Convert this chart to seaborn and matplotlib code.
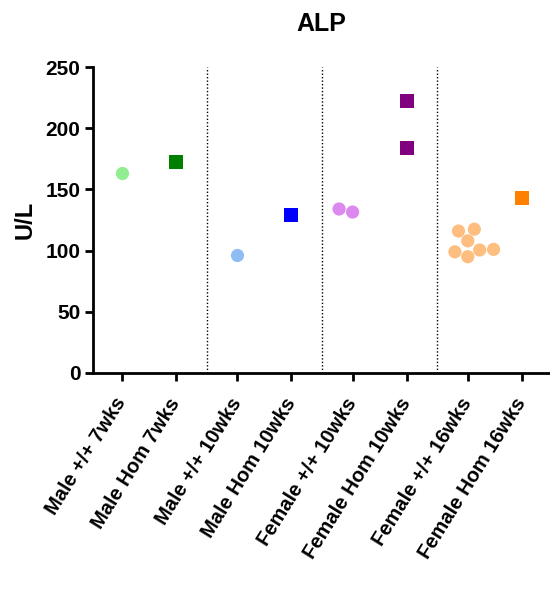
import numpy as np
import pandas as pd
import seaborn as sns
import matplotlib.pyplot as plt

# groups in plot order
groups = ['Male +/+ 7wks', 'Male Hom 7wks', 'Male +/+ 10wks', 'Male Hom 10wks',
          'Female +/+ 10wks', 'Female Hom 10wks', 'Female +/+ 16wks', 'Female Hom 16wks']
colors = ['#90ee90', '#008000', '#8fbcf2', '#0000ff',
          '#dd88ee', '#800080', '#fdbe80', '#ff8000']

# ALP values (U/L)
male_wt_7 = [163.5]
male_hom_7 = [172.5]
male_wt_10 = [96.5]
male_hom_10 = [129]
female_wt_10 = [131.5, 134]
female_hom_10 = [222, 183.5]
female_wt_16 = [117.5, 116, 108, 100.5, 95, 99, 101]
female_hom_16 = [143]

values = [male_wt_7, male_hom_7, male_wt_10, male_hom_10,
          female_wt_10, female_hom_10, female_wt_16, female_hom_16]

gap = 0.13  # extra space between the pairs
positions = [i + gap * (i // 2) for i in range(len(groups))]

rows = []
for g, p, vals in zip(groups, positions, values):
    for v in vals:
        rows.append({'group': g, 'pos': p, 'value': v, 'hom': 'Hom' in g})
df = pd.DataFrame(rows)
pal = dict(zip(groups, colors))

sns.set_style('ticks')
plt.rcParams['font.family'] = ['Liberation Sans', 'DejaVu Sans']
plt.rcParams['font.weight'] = 'bold'
for key in ['text.color', 'axes.labelcolor', 'xtick.color', 'ytick.color', 'axes.edgecolor']:
    plt.rcParams[key] = 'black'

fig = plt.figure(figsize=(5.5, 5.93), dpi=100)
ax = fig.add_axes([0.169, 0.371, 0.831, 0.516])

sns.swarmplot(data=df[~df['hom']], x='pos', y='value', hue='group', palette=pal,
              native_scale=True, size=9.5, marker='o', linewidth=0, legend=False, ax=ax)
sns.swarmplot(data=df[df['hom']], x='pos', y='value', hue='group', palette=pal,
              native_scale=True, size=10, marker='s', linewidth=0, legend=False, ax=ax)

# dotted separators between pairs
for k in range(1, 4):
    ax.axvline((positions[2 * k - 1] + positions[2 * k]) / 2, color='black',
               linestyle=(0, (1, 1.5)), linewidth=1.0, zorder=0)

ax.set_ylim(0, 250)
ax.set_yticks([0, 50, 100, 150, 200, 250])
ax.set_xlim(positions[0] - 0.54, positions[-1] + 0.52)
ax.set_xticks(positions)
ax.set_xticklabels(groups, rotation=58, ha='right', va='center', rotation_mode='anchor')
ax.tick_params(axis='both', width=2, length=6)
ax.tick_params(axis='y', labelsize=15, pad=3)
ax.tick_params(axis='x', labelsize=14.5, pad=13)
for lab in ax.get_xticklabels() + ax.get_yticklabels():
    lab.set_fontweight('bold')

ax.set_xlabel('')
ax.set_ylabel('U/L', fontsize=17, fontweight='bold', labelpad=6)
ax.set_title('ALP', fontsize=18, fontweight='bold', pad=26)

sns.despine(ax=ax)
ax.spines['left'].set_linewidth(2)
ax.spines['bottom'].set_linewidth(2)

fig.savefig('out.png', dpi=100)
